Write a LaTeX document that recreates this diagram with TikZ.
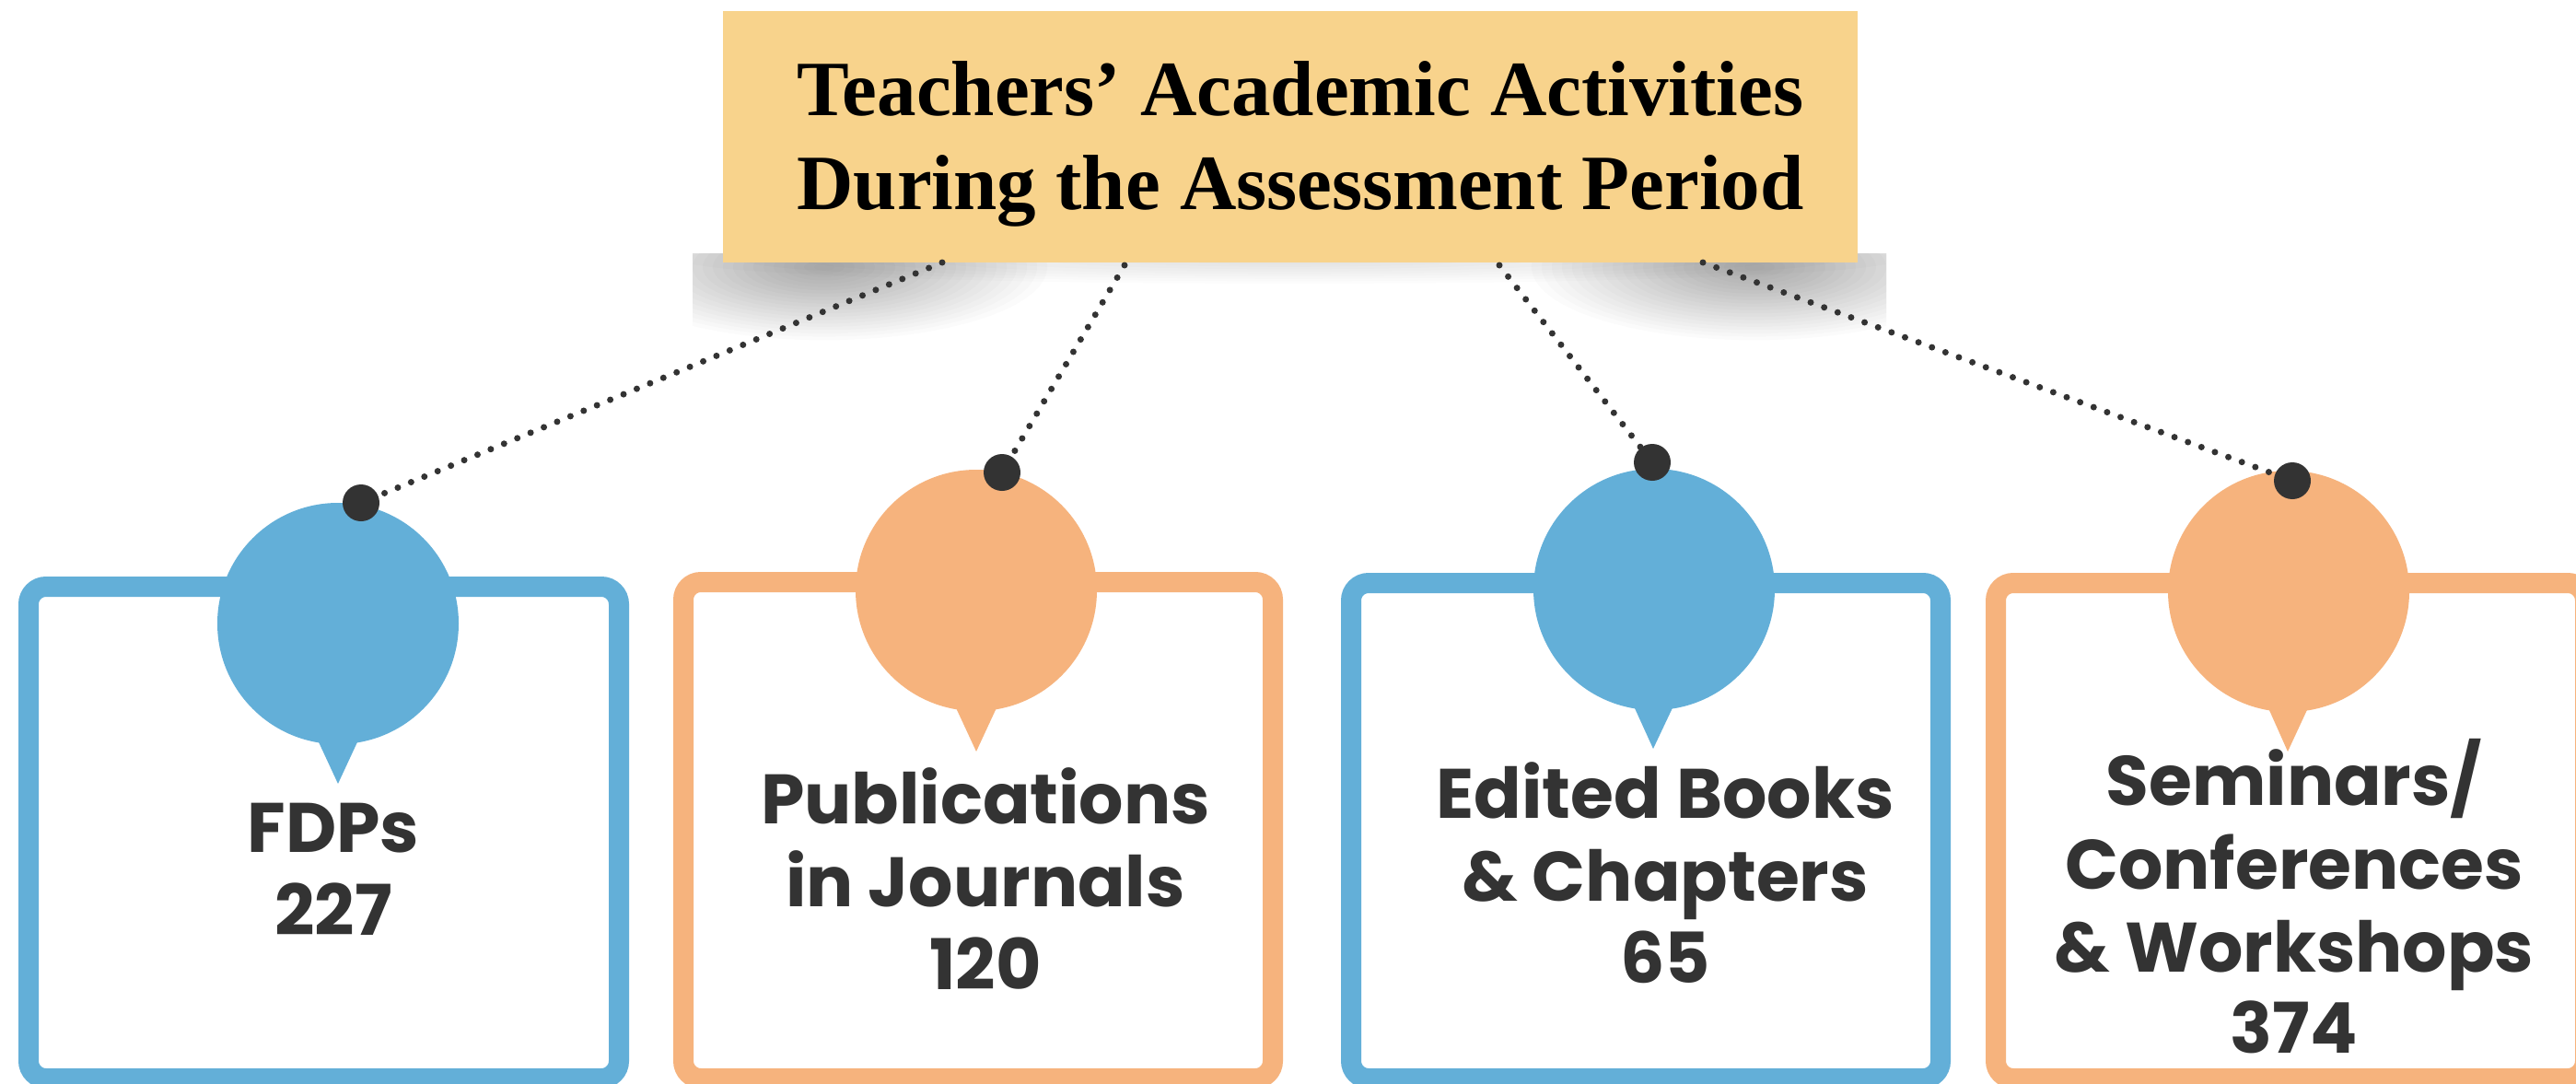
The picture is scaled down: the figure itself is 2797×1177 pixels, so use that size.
\documentclass[tikz,border=0pt]{standalone}
\usepackage{fontspec}
\usepackage{xcolor}
\usepackage{tikz}
\setmainfont{Liberation Serif}
\newfontfamily\popfont{Poppins}

\begin{document}
\begin{tikzpicture}[x=1pt,y=-1pt,
  dotline/.style={draw=textColor,line width=7pt,line cap=round,dash pattern=on 0pt off 15.6pt},
  dotend/.style={circle,fill=textColor,minimum size=40pt,inner sep=0pt},
  itemlabel/.style={text=textColor,anchor=base,inner sep=0pt,outer sep=0pt,font=\popfont\bfseries\fontsize{76}{90}\selectfont}]
\definecolor{fillColor}{RGB}{255,255,255}
\definecolor{textColor}{RGB}{51,51,51}
\definecolor{blueColor}{RGB}{99,175,216}
\definecolor{orangeColor}{RGB}{246,179,125}
\definecolor{titleColor}{RGB}{248,211,140}
\path[use as bounding box,fill=fillColor] (0,0) rectangle (2797,1177);

% shadow under the title
\begin{scope}
\path[clip] (752,275) rectangle (2048,420);
\foreach \r in {1,...,22} {
  \path[fill=black,opacity=0.014] ( 895,290) ellipse ({11*\r} and {3.6*\r});
  \path[fill=black,opacity=0.014] (1905,290) ellipse ({11*\r} and {3.6*\r});
}
\foreach \r in {1,...,10} {
  \path[fill=black,opacity=0.012] (1400,282) ellipse ({66*\r} and {2.6*\r});
}
\end{scope}

\node[fill=titleColor,minimum width=1232pt,minimum height=273pt,inner sep=0pt] (title) at (1401,148.5) {};
\node[align=center,inner sep=0pt,font=\bfseries\fontsize{85}{102}\selectfont] (titletext) at (1412,156)
  {Teachers’ Academic Activities\\During the Assessment Period};

% frames
\path[draw=blueColor,line width=22pt,rounded corners=19pt] (  31,637) rectangle ( 672,1171);
\path[draw=orangeColor,line width=22pt,rounded corners=19pt] ( 742,632) rectangle (1382,1171);
\path[draw=blueColor,line width=22pt,rounded corners=19pt] (1467,633) rectangle (2107,1171);
\path[draw=orangeColor,line width=22pt,rounded corners=19pt] (2167,633) rectangle (2807,1171);

% bubbles
\path[fill=blueColor] ( 367,677) circle (131);
\path[fill=blueColor] ( 341,795) -- ( 367,851) -- ( 393,795) -- cycle;
\path[fill=orangeColor] (1060,641) circle (131);
\path[fill=orangeColor] (1034,760) -- (1060,816) -- (1086,760) -- cycle;
\path[fill=blueColor] (1796,640) circle (131);
\path[fill=blueColor] (1770,758) -- (1795,813) -- (1821,758) -- cycle;
\path[fill=orangeColor] (2485,642) circle (131);
\path[fill=orangeColor] (2459,760) -- (2484,816) -- (2510,760) -- cycle;

% connectors
\coordinate (t1) at (1023,285);
\coordinate (t2) at (1221,288);
\coordinate (t3) at (1628,288);
\coordinate (t4) at (1849,285);
\node[dotend] (dot1) at ( 392,546) {};
\node[dotend] (dot2) at (1088,513) {};
\node[dotend] (dot3) at (1794,502) {};
\node[dotend] (dot4) at (2489,522) {};
\path[dotline] (t1) -- (dot1);
\path[dotline] (t2) -- (dot2);
\path[dotline] (t3) -- (dot3);
\path[dotline] (t4) -- (dot4);

% labels
\node[itemlabel] (fdp1) at ( 362, 925) {FDPs};
\node[itemlabel] (fdp2) at ( 362,1015) {227};

\node[itemlabel] (pub1) at (1070, 894) {Publications};
\node[itemlabel] (pub2) at (1070, 984) {in Journals};
\node[itemlabel] (pub3) at (1070,1074) {120};

\node[itemlabel] (book1) at (1808, 888) {Edited Books};
\node[itemlabel] (book2) at (1808, 978) {\& Chapters};
\node[itemlabel] (book3) at (1808,1067) {65};

\node[itemlabel] (sem1) at (2491, 874) {Seminars/};
\node[itemlabel] (sem2) at (2491, 965) {Conferences};
\node[itemlabel] (sem3) at (2491,1055) {\& Workshops};
\node[itemlabel] (sem4) at (2491,1143) {374};
\end{tikzpicture}
\end{document}
